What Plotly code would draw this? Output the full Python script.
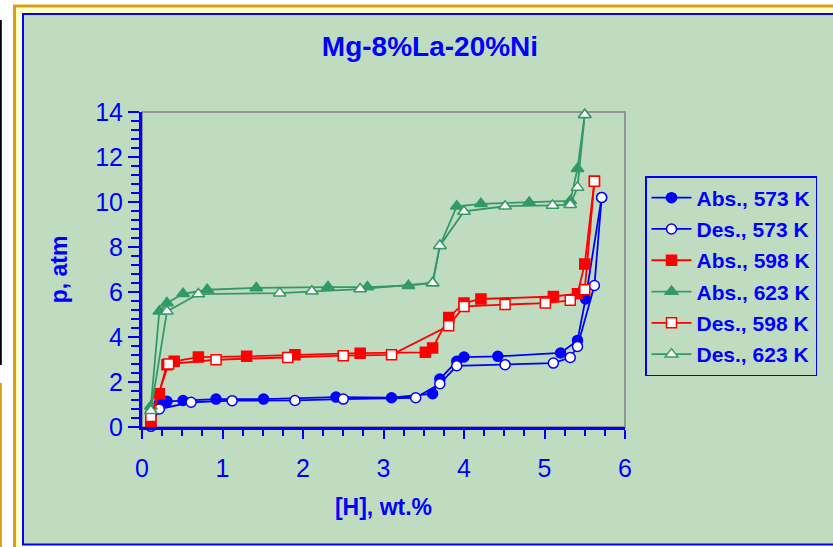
import plotly.graph_objects as go

# Pressure-composition isotherms, Mg-8%La-20%Ni
abs573_x = [0.11, 0.215, 0.31, 0.51, 0.92, 1.51, 2.41, 3.10, 3.61, 3.70, 3.91, 4.00, 4.42, 5.20, 5.41, 5.51, 5.71]
abs573_y = [0.12, 1.04, 1.14, 1.18, 1.24, 1.24, 1.33, 1.30, 1.48, 2.13, 2.92, 3.11, 3.14, 3.29, 3.85, 5.69, 10.2]

des573_x = [5.71, 5.62, 5.41, 5.32, 5.11, 4.51, 3.91, 3.70, 3.40, 2.50, 1.90, 1.12, 0.61, 0.215, 0.11]
des573_y = [10.2, 6.29, 3.58, 3.09, 2.84, 2.77, 2.72, 1.92, 1.30, 1.24, 1.18, 1.17, 1.10, 0.80, 0.03]

abs598_x = [0.11, 0.215, 0.31, 0.40, 0.70, 1.30, 1.90, 2.71, 3.52, 3.61, 3.81, 4.00, 4.21, 5.11, 5.41, 5.50, 5.62]
abs598_y = [0.18, 1.48, 2.77, 2.92, 3.11, 3.14, 3.21, 3.28, 3.32, 3.51, 4.87, 5.51, 5.69, 5.80, 5.92, 7.24, 10.92]

abs623_x = [0.11, 0.215, 0.31, 0.51, 0.81, 1.42, 2.31, 2.80, 3.31, 3.61, 3.70, 3.91, 4.21, 4.81, 5.32, 5.41, 5.50]
abs623_y = [0.92, 5.14, 5.51, 5.92, 6.10, 6.18, 6.22, 6.22, 6.28, 6.40, 8.06, 9.81, 9.92, 9.98, 10.05, 11.48, 13.88]

des598_x = [5.62, 5.50, 5.32, 5.01, 4.51, 4.00, 3.81, 3.10, 2.50, 1.81, 0.92, 0.33, 0.11]
des598_y = [10.92, 6.10, 5.63, 5.51, 5.44, 5.36, 4.50, 3.21, 3.17, 3.09, 2.99, 2.80, 0.47]

des623_x = [5.50, 5.41, 5.32, 5.10, 4.51, 4.00, 3.70, 3.61, 2.71, 2.11, 1.71, 0.70, 0.31, 0.11]
des623_y = [13.88, 10.65, 9.88, 9.85, 9.81, 9.58, 8.06, 6.40, 6.13, 6.03, 5.95, 5.91, 5.14, 0.72]

BLUE = "#0000FF"
RED = "#FF0000"
GREEN = "#339966"
FONT = "Liberation Sans, Arial, sans-serif"

series = [
    ("Abs., 573 K", abs573_x, abs573_y, BLUE, "circle", True, 10),
    ("Des., 573 K", des573_x, des573_y, BLUE, "circle", False, 10),
    ("Abs., 598 K", abs598_x, abs598_y, RED, "square", True, 10),
    ("Abs., 623 K", abs623_x, abs623_y, GREEN, "triangle-up", True, 11),
    ("Des., 598 K", des598_x, des598_y, RED, "square", False, 10),
    ("Des., 623 K", des623_x, des623_y, GREEN, "triangle-up", False, 11),
]

fig = go.Figure()
for i, (name, xs, ys, col, sym, filled, size) in enumerate(series):
    fig.add_trace(go.Scatter(
        x=xs, y=ys, name=name, mode="lines+markers",
        line=dict(color=col, width=1.8),
        marker=dict(symbol=sym, size=size,
                    color=col if filled else "white",
                    line=dict(color=col, width=1.5)),
        cliponaxis=False,
        legendgroup=f"g{i}",
    ))

# page frame: white page, gold outer border, light-yellow band, blue-bordered green panel
W, H = 833, 547
L, R, T, B = 142, 208, 112, 120
PW, PH = W - L - R, H - T - B


def px(x):
    return (x - L) / PW


def py(y):
    return (H - B - y) / PH


shapes = [
    dict(type="rect", xref="paper", yref="paper", layer="below",
         x0=px(14.5), x1=px(W + 10), y0=py(6), y1=py(H + 10),
         line=dict(color="#D4A017", width=3), fillcolor="#FFFFCC"),
    dict(type="rect", xref="paper", yref="paper", layer="below",
         x0=px(23), x1=px(W + 10), y0=py(14), y1=py(544.5),
         line=dict(color=BLUE, width=2), fillcolor="#C0DCC0"),
    dict(type="line", xref="paper", yref="paper", layer="below",
         x0=px(0.8), x1=px(0.8), y0=py(20), y1=py(365),
         line=dict(color="black", width=2)),
    dict(type="line", xref="paper", yref="paper", layer="below",
         x0=px(0.8), x1=px(0.8), y0=py(383), y1=py(H + 5),
         line=dict(color="#D4A017", width=2)),
    dict(type="rect", xref="paper", yref="paper", layer="below",
         x0=0, x1=1, y0=0, y1=1,
         line=dict(color="#808080", width=1.5)),
]

fig.update_layout(
    width=W, height=H,
    margin=dict(l=L, r=R, t=T, b=B),
    paper_bgcolor="white",
    plot_bgcolor="rgba(0,0,0,0)",
    shapes=shapes,
    title=dict(text="<b>Mg-8%La-20%Ni</b>", x=px(430), xanchor="center", xref="paper",
               y=1 - 46 / H, yanchor="middle", yref="container",
               font=dict(family=FONT, size=28, color=BLUE)),
    font=dict(family=FONT, color=BLUE),
    showlegend=True,
    legend=dict(x=px(645), y=py(176), xanchor="left", yanchor="top",
                bordercolor=BLUE, borderwidth=1.5, bgcolor="rgba(0,0,0,0)",
                font=dict(family=FONT, size=21, color=BLUE, weight="bold"),
                tracegroupgap=1, traceorder="grouped", itemwidth=40),
)

fig.update_xaxes(
    range=[0, 6], dtick=1, tick0=0,
    showgrid=False, zeroline=False,
    showline=True, linecolor=BLUE, linewidth=3,
    ticks="outside", ticklen=9, tickwidth=2, tickcolor=BLUE,
    minor=dict(dtick=0.25, ticks="outside", ticklen=6, tickwidth=2, tickcolor=BLUE),
    tickfont=dict(family=FONT, size=25, color=BLUE),
    ticklabelstandoff=8,
    title=dict(text="<b>[H], wt.%</b>", font=dict(family=FONT, size=23, color=BLUE), standoff=18),
)
fig.update_yaxes(
    range=[0, 14], dtick=2, tick0=0,
    showgrid=False, zeroline=False,
    showline=True, linecolor=BLUE, linewidth=3,
    ticks="outside", ticklen=11, tickwidth=2, tickcolor=BLUE,
    minor=dict(dtick=0.4, ticks="outside", ticklen=8, tickwidth=2, tickcolor=BLUE),
    tickfont=dict(family=FONT, size=25, color=BLUE),
    title=dict(text="<b>p, atm</b>", font=dict(family=FONT, size=23, color=BLUE), standoff=22),
)

fig.write_html("out.html")
